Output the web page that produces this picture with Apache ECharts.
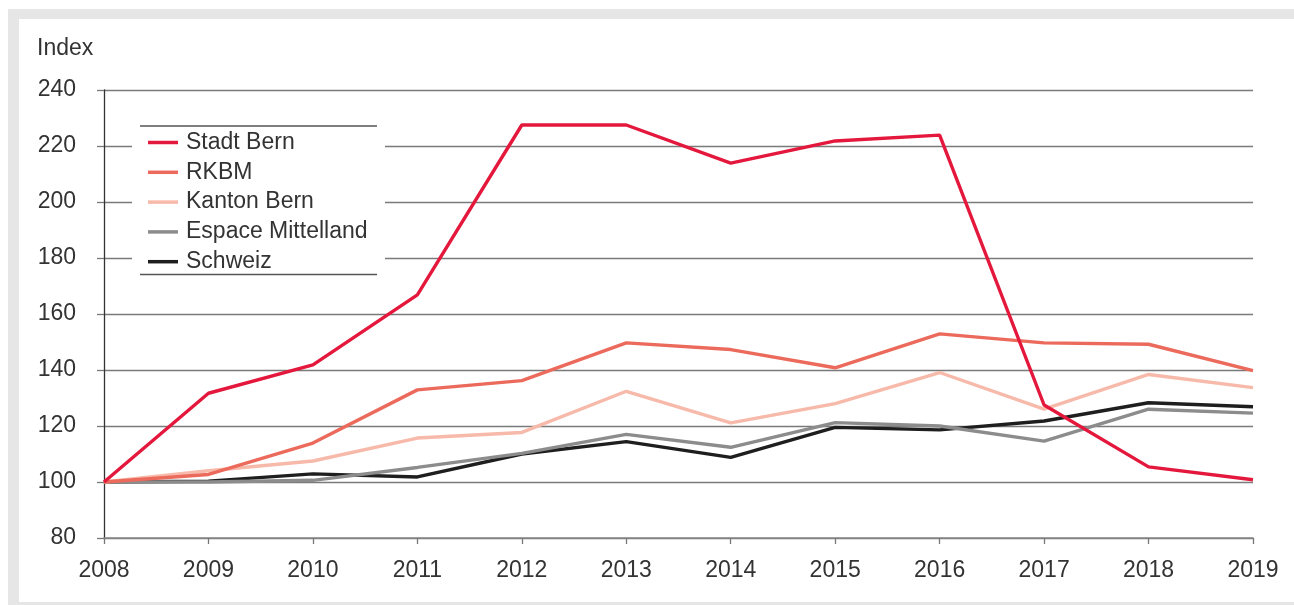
<!DOCTYPE html>
<html>
<head>
<meta charset="utf-8">
<script src="https://cdn.jsdelivr.net/npm/echarts@6/dist/echarts.min.js"></script>
<style>
html,body{margin:0;padding:0;background:#fff;}
#c{width:1294px;height:605px;}
</style>
</head>
<body>
<div id="c"></div>
<script>
const years = ['2008','2009','2010','2011','2012','2013','2014','2015','2016','2017','2018','2019'];
const stadtBern = [100, 131.7, 141.8, 166.8, 227.5, 227.5, 213.9, 221.8, 223.9, 127.5, 105.4, 100.8];
const rkbm = [100, 102.7, 113.9, 132.9, 136.2, 149.7, 147.3, 140.8, 152.9, 149.7, 149.2, 139.8];
const kantonBern = [100, 104.0, 107.5, 115.7, 117.7, 132.4, 121.1, 128.0, 139.1, 126.0, 138.4, 133.7];
const espaceMittelland = [100, 100.0, 100.6, 105.2, 110.2, 117.0, 112.4, 121.2, 120.0, 114.6, 126.0, 124.6];
const schweiz = [100, 100.3, 102.9, 101.8, 110.0, 114.4, 108.8, 119.5, 118.6, 121.8, 128.3, 126.9];
const yTicks = {min: 80, max: 240, interval: 20};

const FONT = '"Liberation Sans", Arial, sans-serif';
const TXT = '#333333';
const chart = echarts.init(document.getElementById('c'), null, {renderer: 'canvas'});
function line(name, data, color, z) {
  return {name, type: 'line', data, symbol: 'none', z,
    lineStyle: {color, width: 3.4}, itemStyle: {color}, emphasis: {disabled: true}};
}
chart.setOption({
  animation: false,
  textStyle: {fontFamily: FONT},
  grid: {left: 104, right: 41, top: 90, bottom: 67},
  graphic: [
    {type: 'rect', z: -10, silent: true, shape: {x: 8, y: 9, width: 1300, height: 610}, style: {fill: '#e6e6e6'}},
    {type: 'rect', z: -9, silent: true, shape: {x: 19, y: 19, width: 1290, height: 583}, style: {fill: '#ffffff'}},
    {type: 'text', z: 5, left: 37, top: 37, style: {text: 'Index', fill: TXT, font: '23px ' + FONT}},
    {type: 'rect', z: 3, silent: true, shape: {x: 132, y: 119, width: 253, height: 162}, style: {fill: '#ffffff'}},
    {type: 'line', z: 3, silent: true, shape: {x1: 140, y1: 126, x2: 377, y2: 126}, style: {stroke: '#555', lineWidth: 1.3}},
    {type: 'line', z: 3, silent: true, shape: {x1: 140, y1: 274.5, x2: 377, y2: 274.5}, style: {stroke: '#555', lineWidth: 1.3}}
  ],
  legend: {
    orient: 'vertical', left: 148, top: 131, padding: 0,
    icon: 'rect', itemWidth: 30, itemHeight: 3.5, itemGap: 6.8,
    data: ['Stadt Bern', 'RKBM', 'Kanton Bern', 'Espace Mittelland', 'Schweiz'],
    textStyle: {color: TXT, fontSize: 23, fontFamily: FONT, lineHeight: 23, padding: [0, 0, 0, 3]},
    selectedMode: false, z: 5
  },
  xAxis: {
    type: 'category', data: years, boundaryGap: false,
    axisLine: {lineStyle: {color: '#888', width: 1.5}},
    axisTick: {show: true, length: 6, lineStyle: {color: '#777', width: 1.3}, alignWithLabel: true},
    axisLabel: {color: TXT, fontSize: 23, fontFamily: FONT, margin: 21},
    splitLine: {show: false}
  },
  yAxis: {
    type: 'value', min: yTicks.min, max: yTicks.max, interval: yTicks.interval,
    axisLine: {show: true, lineStyle: {color: '#333', width: 1.3}},
    axisTick: {show: true, length: 7, lineStyle: {color: '#777', width: 1.3}},
    axisLabel: {color: TXT, fontSize: 23, fontFamily: FONT, margin: 28},
    splitLine: {show: true, lineStyle: {color: '#7a7a7a', width: 1.3}}
  },
  series: [
    line('Schweiz', schweiz, '#1e1e1e', 2),
    line('Espace Mittelland', espaceMittelland, '#8c8c8c', 3),
    line('Kanton Bern', kantonBern, '#f7b9a9', 4),
    line('RKBM', rkbm, '#ec6a5c', 5),
    line('Stadt Bern', stadtBern, '#e4183c', 6)
  ]
});
</script>
</body>
</html>
